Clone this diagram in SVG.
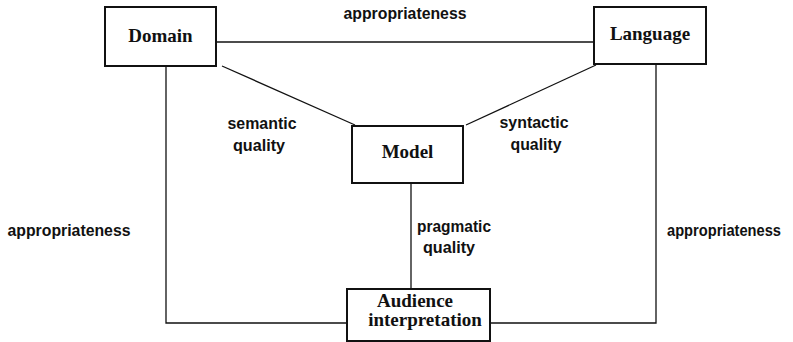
<svg xmlns="http://www.w3.org/2000/svg" width="793" height="342" viewBox="0 0 793 342">
<style>
.box{fill:#fff;stroke:#111;stroke-width:2}
.node{font-family:"Liberation Serif","Times New Roman",serif;font-weight:bold;font-size:19px;fill:#111;text-anchor:middle}
.lbl{font-family:"Liberation Sans",Arial,sans-serif;font-weight:bold;font-size:17px;fill:#111;text-anchor:middle}
.conn{stroke:#111;stroke-width:1.3;fill:none}
</style>
<rect width="793" height="342" fill="#fff"/>
<g id="connectors">
<line class="conn" x1="216" y1="42" x2="594" y2="42"/>
<line class="conn" x1="222" y1="66" x2="355" y2="125"/>
<line class="conn" x1="596" y1="65" x2="466" y2="125"/>
<polyline class="conn" points="166,66 166,323 347,323"/>
<polyline class="conn" points="656,64 656,323 490,323"/>
<line class="conn" x1="411" y1="183" x2="411" y2="289"/>
</g>
<g id="labels">
<text class="lbl" x="405" y="19" textLength="123" lengthAdjust="spacingAndGlyphs">appropriateness</text>
<text class="lbl" x="262" y="129" textLength="69" lengthAdjust="spacingAndGlyphs">semantic</text>
<text class="lbl" x="259" y="151" textLength="52" lengthAdjust="spacingAndGlyphs">quality</text>
<text class="lbl" x="534" y="128" textLength="69" lengthAdjust="spacingAndGlyphs">syntactic</text>
<text class="lbl" x="536" y="150" textLength="51" lengthAdjust="spacingAndGlyphs">quality</text>
<text class="lbl" x="454" y="232" textLength="74" lengthAdjust="spacingAndGlyphs">pragmatic</text>
<text class="lbl" x="449" y="253" textLength="52" lengthAdjust="spacingAndGlyphs">quality</text>
<text class="lbl" x="69" y="236" textLength="123" lengthAdjust="spacingAndGlyphs">appropriateness</text>
<text class="lbl" x="724" y="236" style="font-size:16px" textLength="114" lengthAdjust="spacingAndGlyphs">appropriateness</text>
</g>
<g id="domain">
<rect class="box" x="105" y="7" width="111" height="59"/>
<text class="node" x="160.5" y="42">Domain</text>
</g>
<g id="language">
<rect class="box" x="594" y="7" width="112" height="57"/>
<text class="node" x="650" y="40">Language</text>
</g>
<g id="model">
<rect class="box" x="352" y="126" width="111" height="57"/>
<text class="node" x="407.5" y="158">Model</text>
</g>
<g id="audience">
<rect class="box" x="347" y="289" width="143" height="52"/>
<text class="node" x="415" y="307">Audience</text>
<text class="node" x="425" y="326">interpretation</text>
</g>
</svg>
